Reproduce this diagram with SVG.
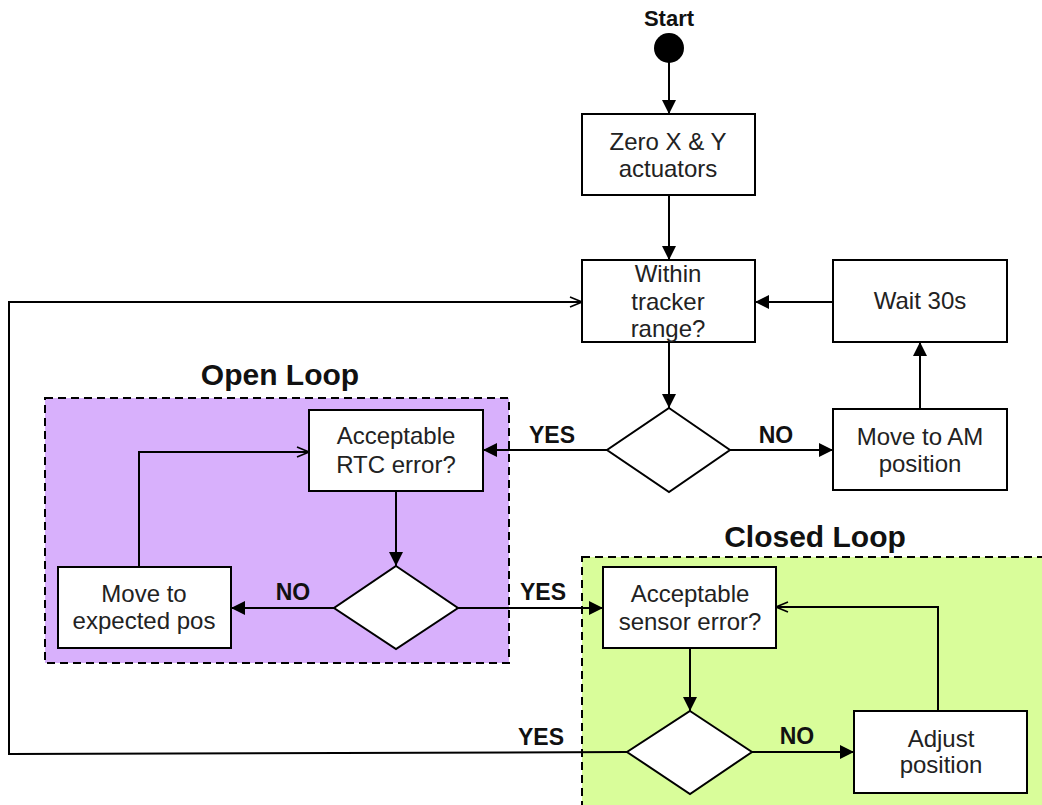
<svg xmlns="http://www.w3.org/2000/svg" width="1042" height="805" viewBox="0 0 1042 805">
<defs>
<marker id="fa" viewBox="0 0 14 14" refX="14" refY="7" markerWidth="14" markerHeight="14" markerUnits="userSpaceOnUse" orient="auto">
<path d="M0,0 L14,7 L0,14 Z" fill="#000"/>
</marker>
<marker id="oa" viewBox="0 0 14 12" refX="13" refY="6" markerWidth="14" markerHeight="12" markerUnits="userSpaceOnUse" orient="auto">
<path d="M1,1 L13,6 L1,11" fill="none" stroke="#000" stroke-width="1.6"/>
</marker>
<style>
.box{fill:#fff;stroke:#000;stroke-width:2}
.t{font-family:"Liberation Sans",Arial,sans-serif;font-size:24px;fill:#222;text-anchor:middle}
.lb{font-family:"Liberation Sans",Arial,sans-serif;font-size:23px;font-weight:bold;fill:#111;text-anchor:middle}
.title{font-family:"Liberation Sans",Arial,sans-serif;font-size:30px;font-weight:bold;fill:#111;text-anchor:middle}
.c{fill:none;stroke:#000;stroke-width:2}
.ca{fill:none;stroke:#000;stroke-width:2;marker-end:url(#fa)}
.co{fill:none;stroke:#000;stroke-width:2;marker-end:url(#oa)}
.region{stroke:#000;stroke-width:2;stroke-dasharray:8,5}
</style>
</defs>
<rect width="1042" height="805" fill="#fff"/>
<g id="open-loop-region">
<rect class="region" x="45" y="398" width="464" height="265" fill="#d8b0fc"/>
<text class="title" x="280" y="385">Open Loop</text>
</g>
<g id="closed-loop-region">
<rect class="region" x="582" y="557" width="480" height="270" fill="#d9fd9a"/>
<text class="title" x="815" y="547">Closed Loop</text>
</g>
<g id="connectors">
<line class="ca" x1="669" y1="62" x2="669" y2="114"/>
<line class="ca" x1="669" y1="195" x2="669" y2="260"/>
<line class="ca" x1="669" y1="342" x2="669" y2="408"/>
<line class="ca" x1="730" y1="450" x2="833" y2="450"/>
<line class="ca" x1="920" y1="409" x2="920" y2="342"/>
<line class="ca" x1="833" y1="302" x2="755" y2="302"/>
<line class="ca" x1="607" y1="450" x2="483" y2="450"/>
<line class="ca" x1="396" y1="491" x2="396" y2="566"/>
<line class="ca" x1="334" y1="608" x2="231" y2="608"/>
<polyline class="co" points="139,567 139,452 309,452"/>
<line class="ca" x1="458" y1="608" x2="603" y2="608"/>
<line class="ca" x1="690" y1="648" x2="690" y2="711"/>
<line class="ca" x1="752" y1="752" x2="854" y2="752"/>
<polyline class="co" points="938,711 938,607 776,607"/>
<polyline class="co" points="627,752 9,754 9,302 582,302"/>
<text class="lb" x="552" y="443">YES</text>
<text class="lb" x="776" y="443">NO</text>
<text class="lb" x="293" y="600">NO</text>
<text class="lb" x="543" y="600">YES</text>
<text class="lb" x="541" y="745">YES</text>
<text class="lb" x="797" y="744">NO</text>
</g>
<g id="start">
<text class="lb" x="669" y="26" style="font-size:22px">Start</text>
<circle cx="669" cy="48" r="15" fill="#000"/>
</g>
<g id="zero-actuators">
<rect class="box" x="582" y="114" width="173" height="81"/>
<text class="t" x="668" y="150">Zero X &amp; Y</text>
<text class="t" x="668" y="177">actuators</text>
</g>
<g id="within-range">
<rect class="box" x="582" y="260" width="173" height="82"/>
<text class="t" x="668" y="282">Within</text>
<text class="t" x="668" y="310">tracker</text>
<text class="t" x="668" y="337">range?</text>
</g>
<g id="wait-30s">
<rect class="box" x="833" y="260" width="174" height="82"/>
<text class="t" x="920" y="309">Wait 30s</text>
</g>
<g id="decision-range">
<polygon class="box" points="669,408 730,450 669,492 607,450"/>
</g>
<g id="move-am">
<rect class="box" x="833" y="409" width="174" height="81"/>
<text class="t" x="920" y="445">Move to AM</text>
<text class="t" x="920" y="472">position</text>
</g>
<g id="rtc-error">
<rect class="box" x="309" y="410" width="174" height="81"/>
<text class="t" x="396" y="444">Acceptable</text>
<text class="t" x="396" y="473">RTC error?</text>
</g>
<g id="decision-rtc">
<polygon class="box" points="396,566 458,608 396,649 334,608"/>
</g>
<g id="move-expected">
<rect class="box" x="58" y="567" width="173" height="81"/>
<text class="t" x="144" y="602">Move to</text>
<text class="t" x="144" y="629">expected pos</text>
</g>
<g id="sensor-error">
<rect class="box" x="603" y="567" width="173" height="81"/>
<text class="t" x="690" y="602">Acceptable</text>
<text class="t" x="690" y="630">sensor error?</text>
</g>
<g id="decision-sensor">
<polygon class="box" points="690,711 752,752 690,794 627,752"/>
</g>
<g id="adjust-position">
<rect class="box" x="854" y="711" width="173" height="82"/>
<text class="t" x="941" y="747">Adjust</text>
<text class="t" x="941" y="773">position</text>
</g>
</svg>
